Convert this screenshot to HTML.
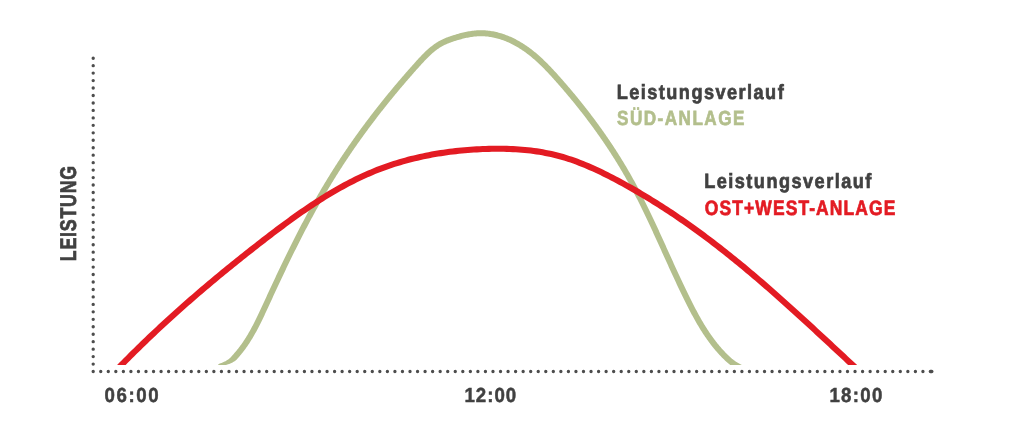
<!DOCTYPE html>
<html><head><meta charset="utf-8">
<style>
html,body{margin:0;padding:0;background:#fff;}
body{width:1024px;height:429px;overflow:hidden;position:relative;}
svg{position:absolute;left:0;top:0;will-change:transform;}
text{font-family:"Liberation Sans",sans-serif;font-weight:bold;text-rendering:geometricPrecision;}
</style></head><body>
<svg width="1024" height="429" viewBox="0 0 1024 429">
<defs><clipPath id="c"><rect x="0" y="0" width="1024" height="365"/></clipPath></defs>
<line x1="93.2" y1="58.2" x2="93.2" y2="371.5" stroke="#4d4d4d" stroke-width="3.35" stroke-linecap="round" stroke-dasharray="0 7.46"/>
<line x1="93.2" y1="371.5" x2="930.47" y2="371.5" stroke="#4d4d4d" stroke-width="3.35" stroke-linecap="round" stroke-dasharray="0 7.543"/>
<line x1="930.4" y1="371.5" x2="931.8" y2="371.5" stroke="#4d4d4d" stroke-width="3.35" stroke-linecap="round"/>
<g clip-path="url(#c)" fill="none">
<path d="M218.15,364.65 L219.41,364.99 L220.67,365.14 L221.92,365.19 L223.16,365.16 L224.39,365.06 L225.62,364.90 L226.83,364.66 L228.02,364.37 L229.20,364.00 L230.35,363.56 L231.48,363.05 L232.59,362.47 L233.65,361.82 L234.66,361.13 L235.63,360.40 L236.55,359.63 L237.36,358.78 L238.14,357.92 L238.90,357.07 L239.64,356.22 L240.37,355.36 L241.09,354.49 L241.80,353.62 L242.51,352.74 L243.20,351.86 L243.88,350.96 L244.56,350.07 L245.23,349.17 L245.88,348.26 L246.53,347.35 L247.18,346.43 L247.81,345.50 L248.44,344.58 L249.05,343.64 L249.67,342.71 L250.27,341.77 L250.87,340.82 L251.46,339.87 L252.04,338.92 L252.62,337.96 L253.19,337.00 L253.75,336.03 L254.31,335.06 L254.86,334.09 L255.41,333.11 L255.95,332.13 L256.49,331.15 L257.02,330.17 L257.55,329.18 L258.07,328.19 L258.59,327.20 L259.10,326.20 L259.61,325.20 L260.12,324.21 L260.62,323.20 L261.12,322.20 L261.62,321.20 L262.11,320.19 L262.60,319.18 L263.08,318.17 L263.57,317.16 L264.05,316.15 L264.53,315.14 L265.00,314.12 L265.48,313.11 L265.95,312.09 L266.42,311.08 L266.89,310.06 L267.36,309.05 L267.83,308.03 L268.30,307.01 L268.76,306.00 L269.23,304.98 L269.70,303.97 L270.16,302.95 L270.63,301.94 L271.09,300.92 L271.56,299.91 L272.02,298.90 L272.49,297.88 L272.96,296.87 L273.43,295.86 L273.89,294.85 L274.36,293.83 L274.83,292.82 L275.30,291.81 L275.77,290.80 L276.24,289.79 L276.71,288.77 L277.18,287.76 L277.65,286.75 L278.12,285.74 L278.59,284.73 L279.06,283.72 L279.54,282.71 L280.01,281.71 L280.48,280.70 L280.96,279.69 L281.43,278.68 L281.91,277.67 L282.38,276.67 L282.86,275.66 L283.34,274.65 L283.81,273.65 L284.29,272.64 L284.77,271.63 L285.25,270.63 L285.73,269.63 L286.21,268.62 L286.69,267.62 L287.17,266.61 L287.65,265.61 L288.14,264.61 L288.62,263.61 L289.10,262.60 L289.59,261.60 L290.07,260.60 L290.56,259.60 L291.05,258.60 L291.54,257.60 L292.02,256.60 L292.51,255.61 L293.00,254.61 L293.49,253.61 L293.99,252.61 L294.48,251.62 L294.97,250.62 L295.46,249.63 L295.96,248.63 L296.45,247.64 L296.95,246.65 L297.45,245.65 L297.95,244.66 L298.45,243.67 L298.95,242.68 L299.45,241.69 L299.95,240.70 L300.45,239.71 L300.95,238.72 L301.46,237.73 L301.96,236.74 L302.47,235.75 L302.98,234.77 L303.49,233.78 L303.99,232.80 L304.50,231.81 L305.02,230.83 L305.53,229.84 L306.04,228.86 L306.56,227.88 L307.07,226.90 L307.59,225.92 L308.10,224.94 L308.62,223.96 L309.14,222.98 L309.66,222.00 L310.19,221.03 L310.71,220.05 L311.23,219.07 L311.76,218.10 L312.28,217.13 L312.81,216.15 L313.34,215.18 L313.87,214.21 L314.40,213.24 L314.93,212.27 L315.47,211.30 L316.00,210.33 L316.54,209.36 L317.07,208.39 L317.61,207.43 L318.15,206.46 L318.69,205.50 L319.23,204.53 L319.78,203.57 L320.32,202.61 L320.87,201.65 L321.41,200.69 L321.96,199.73 L322.51,198.77 L323.06,197.81 L323.62,196.85 L324.17,195.90 L324.73,194.94 L325.28,193.99 L325.84,193.04 L326.40,192.08 L326.96,191.13 L327.52,190.18 L328.09,189.23 L328.65,188.28 L329.22,187.33 L329.79,186.39 L330.36,185.44 L330.93,184.50 L331.50,183.55 L332.07,182.61 L332.65,181.67 L333.23,180.73 L333.81,179.79 L334.39,178.85 L334.97,177.91 L335.55,176.97 L336.14,176.04 L336.72,175.10 L337.31,174.17 L337.90,173.23 L338.49,172.30 L339.08,171.37 L339.68,170.44 L340.27,169.51 L340.87,168.58 L341.47,167.65 L342.07,166.72 L342.67,165.80 L343.27,164.87 L343.87,163.95 L344.48,163.02 L345.09,162.10 L345.70,161.18 L346.31,160.26 L346.92,159.34 L347.53,158.42 L348.14,157.50 L348.76,156.59 L349.38,155.67 L350.00,154.75 L350.62,153.84 L351.24,152.93 L351.86,152.01 L352.48,151.10 L353.11,150.19 L353.74,149.28 L354.37,148.37 L355.00,147.47 L355.63,146.56 L356.26,145.65 L356.89,144.75 L357.53,143.84 L358.17,142.94 L358.80,142.04 L359.44,141.14 L360.08,140.23 L360.73,139.33 L361.37,138.44 L362.02,137.54 L362.66,136.64 L363.31,135.74 L363.96,134.85 L364.61,133.95 L365.26,133.06 L365.91,132.17 L366.57,131.28 L367.23,130.38 L367.88,129.49 L368.54,128.61 L369.20,127.72 L369.86,126.83 L370.52,125.94 L371.19,125.06 L371.85,124.17 L372.52,123.29 L373.19,122.40 L373.86,121.52 L374.53,120.64 L375.20,119.76 L375.87,118.88 L376.54,118.00 L377.22,117.12 L377.90,116.25 L378.57,115.37 L379.25,114.49 L379.93,113.62 L380.61,112.75 L381.30,111.87 L381.98,111.00 L382.67,110.13 L383.35,109.26 L384.04,108.39 L384.73,107.52 L385.42,106.65 L386.11,105.79 L386.81,104.92 L387.50,104.06 L388.19,103.19 L388.89,102.33 L389.59,101.46 L390.29,100.60 L390.99,99.74 L391.69,98.88 L392.39,98.02 L393.09,97.16 L393.80,96.31 L394.51,95.45 L395.21,94.59 L395.92,93.74 L396.63,92.88 L397.34,92.03 L398.05,91.18 L398.77,90.32 L399.48,89.47 L400.20,88.62 L400.91,87.77 L401.63,86.93 L402.35,86.08 L403.07,85.23 L403.79,84.38 L404.51,83.54 L405.23,82.69 L405.96,81.85 L406.68,81.01 L407.41,80.17 L408.14,79.32 L408.87,78.48 L409.60,77.64 L410.33,76.80 L411.06,75.97 L411.79,75.13 L412.53,74.29 L413.26,73.46 L414.00,72.62 L414.74,71.79 L415.48,70.95 L416.21,70.12 L416.96,69.29 L417.70,68.46 L418.44,67.63 L419.18,66.80 L419.93,65.97 L420.67,65.15 L421.42,64.32 L422.16,63.51 L422.91,62.69 L423.66,61.88 L424.41,61.08 L425.16,60.29 L425.92,59.50 L426.68,58.72 L427.44,57.95 L428.20,57.19 L428.97,56.43 L429.75,55.69 L430.53,54.96 L431.31,54.25 L432.10,53.54 L432.90,52.85 L433.70,52.17 L434.51,51.51 L435.33,50.86 L436.16,50.23 L436.99,49.61 L437.83,49.01 L438.68,48.43 L439.54,47.86 L440.41,47.31 L441.28,46.79 L442.17,46.28 L443.07,45.79 L443.98,45.32 L444.91,44.87 L445.86,44.43 L446.82,44.00 L447.79,43.59 L448.77,43.20 L449.77,42.81 L450.78,42.44 L451.80,42.08 L452.83,41.72 L453.87,41.37 L454.91,41.03 L455.97,40.70 L457.03,40.37 L458.09,40.06 L459.15,39.75 L460.21,39.44 L461.27,39.15 L462.34,38.87 L463.41,38.60 L464.48,38.34 L465.55,38.09 L466.61,37.86 L467.68,37.64 L468.75,37.43 L469.82,37.24 L470.89,37.06 L471.96,36.90 L473.02,36.75 L474.09,36.62 L475.15,36.50 L476.22,36.41 L477.28,36.33 L478.33,36.27 L479.39,36.23 L480.44,36.21 L481.49,36.21 L482.55,36.23 L483.60,36.27 L484.65,36.33 L485.70,36.40 L486.75,36.50 L487.79,36.61 L488.84,36.75 L489.88,36.90 L490.93,37.07 L491.97,37.25 L493.01,37.45 L494.04,37.67 L495.08,37.91 L496.11,38.16 L497.14,38.43 L498.16,38.71 L499.18,39.01 L500.20,39.33 L501.21,39.66 L502.23,40.00 L503.23,40.36 L504.23,40.73 L505.23,41.12 L506.22,41.52 L507.21,41.94 L508.19,42.36 L509.17,42.80 L510.14,43.25 L511.11,43.72 L512.07,44.19 L513.02,44.68 L513.97,45.18 L514.91,45.69 L515.84,46.21 L516.77,46.74 L517.69,47.28 L518.60,47.84 L519.51,48.40 L520.41,48.97 L521.31,49.55 L522.20,50.14 L523.08,50.74 L523.96,51.35 L524.83,51.97 L525.70,52.60 L526.56,53.24 L527.42,53.88 L528.27,54.54 L529.12,55.20 L529.96,55.87 L530.80,56.55 L531.63,57.23 L532.46,57.93 L533.28,58.63 L534.10,59.33 L534.92,60.05 L535.73,60.77 L536.54,61.50 L537.34,62.23 L538.14,62.97 L538.93,63.72 L539.72,64.47 L540.51,65.23 L541.30,65.99 L542.08,66.76 L542.86,67.54 L543.63,68.31 L544.40,69.10 L545.17,69.89 L545.94,70.68 L546.70,71.48 L547.46,72.28 L548.22,73.08 L548.98,73.89 L549.73,74.70 L550.48,75.52 L551.23,76.34 L551.98,77.16 L552.73,77.98 L553.47,78.81 L554.21,79.64 L554.95,80.47 L555.69,81.30 L556.43,82.13 L557.17,82.97 L557.90,83.81 L558.64,84.64 L559.37,85.48 L560.10,86.32 L560.83,87.16 L561.56,88.01 L562.29,88.85 L563.01,89.69 L563.73,90.54 L564.46,91.38 L565.18,92.23 L565.90,93.08 L566.61,93.93 L567.33,94.78 L568.04,95.63 L568.75,96.48 L569.47,97.33 L570.17,98.19 L570.88,99.04 L571.59,99.90 L572.29,100.76 L572.99,101.61 L573.70,102.47 L574.40,103.33 L575.09,104.20 L575.79,105.06 L576.48,105.92 L577.18,106.79 L577.87,107.65 L578.56,108.52 L579.25,109.39 L579.93,110.26 L580.62,111.13 L581.30,112.00 L581.98,112.87 L582.66,113.74 L583.34,114.62 L584.01,115.49 L584.69,116.37 L585.36,117.25 L586.03,118.12 L586.70,119.00 L587.37,119.89 L588.03,120.77 L588.69,121.65 L589.36,122.53 L590.02,123.42 L590.67,124.31 L591.33,125.19 L591.99,126.08 L592.64,126.97 L593.29,127.86 L593.94,128.76 L594.59,129.65 L595.23,130.54 L595.88,131.44 L596.52,132.34 L597.16,133.23 L597.80,134.13 L598.43,135.03 L599.07,135.93 L599.70,136.84 L600.33,137.74 L600.96,138.65 L601.59,139.55 L602.21,140.46 L602.84,141.37 L603.46,142.28 L604.08,143.19 L604.69,144.10 L605.31,145.01 L605.92,145.93 L606.53,146.84 L607.14,147.76 L607.75,148.68 L608.36,149.60 L608.96,150.52 L609.56,151.44 L610.16,152.36 L610.76,153.29 L611.36,154.21 L611.95,155.14 L612.54,156.06 L613.13,156.99 L613.72,157.92 L614.31,158.86 L614.89,159.79 L615.47,160.72 L616.05,161.66 L616.63,162.59 L617.21,163.53 L617.78,164.47 L618.35,165.41 L618.92,166.35 L619.49,167.29 L620.05,168.24 L620.62,169.18 L621.18,170.13 L621.74,171.08 L622.30,172.03 L622.85,172.98 L623.40,173.93 L623.95,174.88 L624.50,175.83 L625.05,176.79 L625.59,177.75 L626.14,178.70 L626.68,179.66 L627.21,180.62 L627.75,181.59 L628.28,182.55 L628.81,183.51 L629.34,184.48 L629.87,185.45 L630.40,186.42 L630.92,187.39 L631.44,188.36 L631.96,189.33 L632.48,190.30 L632.99,191.28 L633.51,192.26 L634.02,193.23 L634.53,194.21 L635.04,195.19 L635.55,196.17 L636.05,197.16 L636.56,198.14 L637.06,199.12 L637.56,200.11 L638.06,201.10 L638.55,202.08 L639.05,203.07 L639.54,204.06 L640.04,205.05 L640.53,206.05 L641.02,207.04 L641.51,208.03 L641.99,209.03 L642.48,210.02 L642.97,211.02 L643.45,212.02 L643.93,213.01 L644.41,214.01 L644.89,215.01 L645.37,216.01 L645.85,217.02 L646.33,218.02 L646.80,219.02 L647.28,220.02 L647.75,221.03 L648.23,222.03 L648.70,223.04 L649.17,224.04 L649.64,225.05 L650.11,226.06 L650.58,227.07 L651.05,228.08 L651.51,229.08 L651.98,230.09 L652.45,231.10 L652.91,232.12 L653.38,233.13 L653.84,234.14 L654.31,235.15 L654.77,236.16 L655.23,237.18 L655.70,238.19 L656.16,239.20 L656.62,240.22 L657.08,241.23 L657.54,242.25 L658.00,243.26 L658.46,244.28 L658.92,245.29 L659.38,246.31 L659.84,247.32 L660.30,248.34 L660.76,249.36 L661.22,250.37 L661.68,251.39 L662.14,252.40 L662.60,253.42 L663.06,254.44 L663.52,255.46 L663.98,256.47 L664.44,257.49 L664.90,258.51 L665.36,259.52 L665.82,260.54 L666.29,261.56 L666.75,262.57 L667.21,263.59 L667.67,264.61 L668.13,265.62 L668.60,266.64 L669.06,267.66 L669.52,268.67 L669.99,269.69 L670.45,270.70 L670.92,271.72 L671.38,272.73 L671.85,273.75 L672.32,274.76 L672.79,275.78 L673.26,276.79 L673.73,277.80 L674.20,278.82 L674.67,279.83 L675.14,280.84 L675.61,281.85 L676.09,282.87 L676.56,283.88 L677.04,284.89 L677.51,285.90 L677.99,286.91 L678.47,287.92 L678.95,288.92 L679.43,289.93 L679.91,290.94 L680.40,291.95 L680.88,292.95 L681.37,293.96 L681.86,294.96 L682.34,295.97 L682.83,296.97 L683.33,297.97 L683.82,298.97 L684.31,299.97 L684.81,300.97 L685.31,301.97 L685.81,302.97 L686.31,303.97 L686.81,304.97 L687.31,305.96 L687.82,306.96 L688.33,307.95 L688.84,308.95 L689.35,309.94 L689.87,310.93 L690.39,311.92 L690.91,312.91 L691.43,313.90 L691.96,314.88 L692.49,315.87 L693.03,316.85 L693.56,317.83 L694.11,318.81 L694.65,319.79 L695.20,320.76 L695.75,321.73 L696.31,322.70 L696.87,323.67 L697.43,324.64 L698.00,325.60 L698.58,326.56 L699.15,327.52 L699.74,328.48 L700.33,329.43 L700.92,330.38 L701.52,331.33 L702.12,332.27 L702.73,333.21 L703.34,334.15 L703.96,335.09 L704.59,336.02 L705.22,336.95 L705.86,337.87 L706.50,338.79 L707.15,339.71 L707.80,340.62 L708.47,341.53 L709.14,342.44 L709.81,343.34 L710.49,344.24 L711.18,345.13 L711.88,346.02 L712.58,346.90 L713.29,347.78 L714.01,348.66 L714.74,349.53 L715.47,350.40 L716.21,351.26 L716.96,352.11 L717.72,352.97 L718.48,353.81 L719.26,354.65 L720.04,355.49 L720.83,356.32 L721.63,357.14 L722.43,357.96 L723.25,358.78 L724.08,359.59 L724.92,360.39 L725.78,361.19 L726.65,361.97 L727.53,362.74 L728.43,363.50 L729.34,364.25 L730.27,364.98 L731.22,365.69 L732.18,366.38 L733.17,367.04 L734.17,367.69 L735.19,368.30 L736.23,368.89 L737.30,369.45 L738.38,369.98 L739.48,370.47 L740.61,370.92 L741.76,371.34 L742.94,371.71 L744.13,372.04 L745.35,372.33 L746.59,372.57 L747.85,372.76 L749.14,372.90 L750.44,372.99 L751.77,373.02 L753.12,372.99 L752.88,367.00 L751.79,367.02 L750.71,366.99 L749.66,366.92 L748.62,366.81 L747.61,366.66 L746.61,366.47 L745.62,366.23 L744.65,365.96 L743.70,365.66 L742.76,365.32 L741.83,364.94 L740.91,364.53 L740.00,364.09 L739.10,363.62 L738.22,363.12 L737.34,362.59 L736.47,362.04 L735.61,361.45 L734.76,360.85 L733.92,360.22 L733.09,359.56 L732.26,358.89 L731.45,358.20 L730.64,357.49 L729.83,356.76 L729.04,356.02 L728.25,355.27 L727.47,354.51 L726.69,353.73 L725.92,352.95 L725.16,352.16 L724.40,351.37 L723.66,350.57 L722.92,349.77 L722.18,348.96 L721.46,348.15 L720.74,347.33 L720.03,346.50 L719.33,345.67 L718.64,344.84 L717.95,344.00 L717.26,343.15 L716.59,342.30 L715.92,341.45 L715.26,340.59 L714.60,339.73 L713.95,338.86 L713.31,337.98 L712.67,337.11 L712.03,336.23 L711.41,335.34 L710.79,334.45 L710.17,333.56 L709.56,332.66 L708.95,331.76 L708.35,330.85 L707.76,329.94 L707.17,329.03 L706.58,328.11 L706.00,327.19 L705.42,326.27 L704.85,325.34 L704.28,324.41 L703.72,323.48 L703.16,322.54 L702.61,321.60 L702.05,320.66 L701.51,319.71 L700.96,318.76 L700.42,317.81 L699.88,316.85 L699.35,315.90 L698.82,314.94 L698.29,313.97 L697.77,313.01 L697.25,312.04 L696.73,311.07 L696.21,310.10 L695.70,309.13 L695.19,308.15 L694.68,307.18 L694.17,306.20 L693.67,305.22 L693.16,304.23 L692.66,303.25 L692.16,302.26 L691.67,301.28 L691.17,300.29 L690.68,299.30 L690.18,298.31 L689.69,297.31 L689.20,296.32 L688.71,295.33 L688.22,294.33 L687.74,293.34 L687.25,292.34 L686.77,291.34 L686.29,290.34 L685.80,289.34 L685.32,288.34 L684.84,287.34 L684.37,286.34 L683.89,285.34 L683.41,284.34 L682.94,283.33 L682.46,282.33 L681.99,281.32 L681.52,280.32 L681.05,279.31 L680.58,278.30 L680.11,277.30 L679.64,276.29 L679.17,275.28 L678.70,274.27 L678.23,273.26 L677.77,272.25 L677.30,271.24 L676.84,270.23 L676.37,269.22 L675.91,268.20 L675.44,267.19 L674.98,266.18 L674.52,265.17 L674.06,264.15 L673.59,263.14 L673.13,262.12 L672.67,261.11 L672.21,260.09 L671.75,259.08 L671.29,258.06 L670.83,257.05 L670.37,256.03 L669.91,255.02 L669.45,254.00 L668.99,252.98 L668.53,251.97 L668.07,250.95 L667.61,249.93 L667.15,248.92 L666.69,247.90 L666.23,246.88 L665.77,245.87 L665.31,244.85 L664.85,243.83 L664.39,242.81 L663.93,241.80 L663.47,240.78 L663.01,239.76 L662.54,238.75 L662.08,237.73 L661.62,236.72 L661.15,235.70 L660.69,234.68 L660.23,233.67 L659.76,232.65 L659.30,231.64 L658.83,230.62 L658.36,229.61 L657.90,228.59 L657.43,227.58 L656.96,226.56 L656.49,225.55 L656.02,224.54 L655.55,223.53 L655.08,222.51 L654.60,221.50 L654.13,220.49 L653.66,219.48 L653.18,218.47 L652.70,217.46 L652.23,216.45 L651.75,215.44 L651.27,214.43 L650.79,213.43 L650.30,212.42 L649.82,211.41 L649.34,210.41 L648.85,209.40 L648.36,208.40 L647.87,207.39 L647.38,206.39 L646.89,205.39 L646.40,204.39 L645.91,203.39 L645.41,202.39 L644.91,201.39 L644.42,200.39 L643.91,199.39 L643.41,198.39 L642.91,197.40 L642.40,196.40 L641.90,195.41 L641.39,194.42 L640.88,193.42 L640.37,192.43 L639.85,191.44 L639.34,190.45 L638.82,189.47 L638.30,188.48 L637.78,187.49 L637.26,186.51 L636.73,185.53 L636.20,184.54 L635.67,183.56 L635.14,182.58 L634.61,181.60 L634.07,180.62 L633.53,179.65 L632.99,178.67 L632.45,177.70 L631.91,176.73 L631.36,175.75 L630.81,174.79 L630.26,173.82 L629.71,172.85 L629.15,171.88 L628.59,170.92 L628.03,169.96 L627.47,168.99 L626.91,168.03 L626.34,167.07 L625.78,166.12 L625.21,165.16 L624.63,164.20 L624.06,163.25 L623.48,162.30 L622.90,161.35 L622.32,160.40 L621.74,159.45 L621.16,158.50 L620.57,157.55 L619.98,156.61 L619.39,155.67 L618.80,154.72 L618.20,153.78 L617.60,152.84 L617.01,151.90 L616.40,150.97 L615.80,150.03 L615.20,149.10 L614.59,148.16 L613.98,147.23 L613.37,146.30 L612.76,145.37 L612.14,144.44 L611.53,143.51 L610.91,142.59 L610.29,141.66 L609.67,140.74 L609.04,139.82 L608.41,138.90 L607.79,137.98 L607.16,137.06 L606.52,136.14 L605.89,135.23 L605.25,134.31 L604.62,133.40 L603.98,132.49 L603.34,131.57 L602.69,130.66 L602.05,129.76 L601.40,128.85 L600.75,127.94 L600.10,127.04 L599.45,126.13 L598.79,125.23 L598.14,124.33 L597.48,123.43 L596.82,122.53 L596.16,121.63 L595.50,120.73 L594.83,119.84 L594.16,118.94 L593.49,118.05 L592.82,117.16 L592.15,116.27 L591.48,115.38 L590.80,114.49 L590.13,113.60 L589.45,112.71 L588.76,111.83 L588.08,110.95 L587.40,110.06 L586.71,109.18 L586.02,108.30 L585.33,107.42 L584.64,106.54 L583.95,105.66 L583.26,104.79 L582.56,103.91 L581.86,103.04 L581.16,102.17 L580.46,101.29 L579.76,100.42 L579.05,99.55 L578.35,98.68 L577.64,97.82 L576.93,96.95 L576.22,96.09 L575.51,95.22 L574.79,94.36 L574.08,93.50 L573.36,92.64 L572.64,91.78 L571.92,90.92 L571.20,90.06 L570.48,89.20 L569.75,88.35 L569.02,87.49 L568.30,86.64 L567.57,85.79 L566.83,84.94 L566.10,84.08 L565.37,83.24 L564.63,82.39 L563.89,81.54 L563.15,80.69 L562.41,79.85 L561.67,79.00 L560.93,78.16 L560.18,77.32 L559.44,76.48 L558.69,75.64 L557.93,74.80 L557.18,73.96 L556.42,73.12 L555.66,72.29 L554.90,71.46 L554.14,70.63 L553.37,69.80 L552.60,68.98 L551.82,68.15 L551.04,67.33 L550.26,66.52 L549.48,65.71 L548.69,64.90 L547.90,64.09 L547.10,63.29 L546.30,62.50 L545.49,61.70 L544.69,60.92 L543.87,60.13 L543.05,59.36 L542.23,58.58 L541.40,57.82 L540.57,57.06 L539.73,56.30 L538.89,55.55 L538.04,54.81 L537.19,54.07 L536.33,53.34 L535.47,52.62 L534.59,51.90 L533.72,51.19 L532.84,50.49 L531.95,49.79 L531.05,49.11 L530.15,48.43 L529.24,47.76 L528.33,47.10 L527.41,46.44 L526.48,45.80 L525.54,45.16 L524.60,44.54 L523.65,43.92 L522.70,43.31 L521.73,42.72 L520.76,42.13 L519.78,41.55 L518.79,40.99 L517.80,40.43 L516.80,39.89 L515.78,39.36 L514.77,38.84 L513.74,38.33 L512.71,37.83 L511.67,37.35 L510.62,36.87 L509.57,36.42 L508.51,35.97 L507.44,35.54 L506.37,35.13 L505.29,34.72 L504.20,34.34 L503.11,33.96 L502.01,33.61 L500.91,33.27 L499.81,32.94 L498.69,32.63 L497.58,32.34 L496.46,32.07 L495.33,31.81 L494.20,31.57 L493.07,31.35 L491.93,31.15 L490.79,30.97 L489.64,30.80 L488.50,30.66 L487.34,30.53 L486.19,30.42 L485.03,30.34 L483.87,30.28 L482.71,30.23 L481.55,30.21 L480.38,30.21 L479.22,30.23 L478.05,30.28 L476.89,30.34 L475.72,30.43 L474.56,30.53 L473.41,30.66 L472.25,30.80 L471.09,30.96 L469.94,31.13 L468.79,31.33 L467.65,31.53 L466.50,31.76 L465.36,31.99 L464.23,32.24 L463.09,32.50 L461.96,32.78 L460.84,33.06 L459.72,33.36 L458.60,33.66 L457.49,33.98 L456.38,34.30 L455.28,34.63 L454.18,34.97 L453.08,35.32 L451.99,35.67 L450.90,36.04 L449.81,36.41 L448.73,36.80 L447.65,37.20 L446.57,37.62 L445.50,38.05 L444.44,38.49 L443.38,38.96 L442.34,39.45 L441.30,39.96 L440.27,40.49 L439.25,41.04 L438.25,41.61 L437.26,42.21 L436.29,42.82 L435.33,43.45 L434.39,44.09 L433.46,44.76 L432.54,45.44 L431.64,46.13 L430.75,46.84 L429.87,47.56 L429.00,48.29 L428.14,49.04 L427.29,49.79 L426.45,50.56 L425.63,51.34 L424.81,52.12 L423.99,52.91 L423.19,53.71 L422.39,54.52 L421.60,55.33 L420.82,56.15 L420.04,56.97 L419.27,57.80 L418.50,58.62 L417.74,59.46 L416.98,60.29 L416.22,61.12 L415.47,61.96 L414.72,62.79 L413.97,63.63 L413.22,64.46 L412.48,65.30 L411.73,66.13 L410.99,66.97 L410.24,67.81 L409.50,68.65 L408.76,69.49 L408.02,70.33 L407.28,71.17 L406.54,72.02 L405.81,72.86 L405.07,73.70 L404.34,74.55 L403.60,75.40 L402.87,76.24 L402.14,77.09 L401.41,77.94 L400.68,78.79 L399.95,79.64 L399.22,80.49 L398.50,81.34 L397.77,82.19 L397.05,83.05 L396.33,83.90 L395.61,84.76 L394.89,85.61 L394.17,86.47 L393.45,87.33 L392.73,88.19 L392.02,89.05 L391.30,89.91 L390.59,90.77 L389.88,91.63 L389.17,92.49 L388.46,93.36 L387.75,94.22 L387.04,95.09 L386.33,95.95 L385.63,96.82 L384.93,97.69 L384.22,98.56 L383.52,99.43 L382.82,100.30 L382.12,101.17 L381.42,102.04 L380.73,102.92 L380.03,103.79 L379.34,104.66 L378.65,105.54 L377.95,106.42 L377.26,107.29 L376.57,108.17 L375.89,109.05 L375.20,109.93 L374.51,110.81 L373.83,111.70 L373.15,112.58 L372.47,113.46 L371.79,114.35 L371.11,115.23 L370.43,116.12 L369.75,117.01 L369.08,117.89 L368.40,118.78 L367.73,119.67 L367.06,120.56 L366.39,121.46 L365.72,122.35 L365.05,123.24 L364.39,124.14 L363.72,125.03 L363.06,125.93 L362.40,126.82 L361.73,127.72 L361.07,128.62 L360.42,129.52 L359.76,130.42 L359.10,131.32 L358.45,132.23 L357.80,133.13 L357.15,134.03 L356.50,134.94 L355.85,135.85 L355.20,136.75 L354.55,137.66 L353.91,138.57 L353.26,139.48 L352.62,140.39 L351.98,141.30 L351.34,142.21 L350.70,143.13 L350.07,144.04 L349.43,144.96 L348.80,145.87 L348.17,146.79 L347.54,147.71 L346.91,148.63 L346.28,149.55 L345.65,150.47 L345.03,151.39 L344.40,152.31 L343.78,153.24 L343.16,154.16 L342.54,155.09 L341.92,156.01 L341.31,156.94 L340.69,157.87 L340.08,158.80 L339.47,159.73 L338.85,160.66 L338.25,161.59 L337.64,162.53 L337.03,163.46 L336.43,164.39 L335.82,165.33 L335.22,166.27 L334.62,167.21 L334.02,168.14 L333.42,169.08 L332.83,170.02 L332.23,170.97 L331.64,171.91 L331.05,172.85 L330.46,173.80 L329.87,174.74 L329.28,175.69 L328.70,176.64 L328.12,177.59 L327.53,178.53 L326.95,179.49 L326.37,180.44 L325.80,181.39 L325.22,182.34 L324.64,183.30 L324.07,184.25 L323.50,185.21 L322.93,186.16 L322.36,187.12 L321.79,188.08 L321.23,189.04 L320.66,190.00 L320.10,190.96 L319.54,191.92 L318.98,192.89 L318.42,193.85 L317.87,194.81 L317.31,195.78 L316.76,196.75 L316.20,197.71 L315.65,198.68 L315.10,199.65 L314.55,200.62 L314.01,201.59 L313.46,202.56 L312.91,203.53 L312.37,204.50 L311.83,205.48 L311.29,206.45 L310.75,207.43 L310.21,208.40 L309.67,209.38 L309.14,210.36 L308.60,211.33 L308.07,212.31 L307.54,213.29 L307.01,214.27 L306.48,215.25 L305.95,216.23 L305.42,217.21 L304.89,218.20 L304.37,219.18 L303.85,220.16 L303.32,221.15 L302.80,222.13 L302.28,223.12 L301.76,224.11 L301.24,225.09 L300.72,226.08 L300.21,227.07 L299.69,228.06 L299.18,229.05 L298.67,230.04 L298.15,231.03 L297.64,232.02 L297.13,233.01 L296.62,234.01 L296.12,235.00 L295.61,235.99 L295.10,236.99 L294.60,237.98 L294.09,238.98 L293.59,239.97 L293.09,240.97 L292.59,241.97 L292.08,242.96 L291.59,243.96 L291.09,244.96 L290.59,245.96 L290.09,246.96 L289.60,247.96 L289.10,248.96 L288.61,249.96 L288.11,250.96 L287.62,251.96 L287.13,252.96 L286.63,253.97 L286.14,254.97 L285.65,255.97 L285.17,256.98 L284.68,257.98 L284.19,258.99 L283.70,259.99 L283.22,261.00 L282.73,262.00 L282.25,263.01 L281.76,264.02 L281.28,265.02 L280.80,266.03 L280.31,267.04 L279.83,268.05 L279.35,269.05 L278.87,270.06 L278.39,271.07 L277.91,272.08 L277.44,273.09 L276.96,274.10 L276.48,275.11 L276.00,276.12 L275.53,277.13 L275.05,278.15 L274.58,279.16 L274.10,280.17 L273.63,281.18 L273.16,282.19 L272.68,283.21 L272.21,284.22 L271.74,285.23 L271.27,286.24 L270.80,287.26 L270.32,288.27 L269.85,289.29 L269.38,290.30 L268.92,291.31 L268.45,292.33 L267.98,293.34 L267.51,294.36 L267.04,295.37 L266.57,296.39 L266.11,297.40 L265.64,298.42 L265.17,299.44 L264.71,300.45 L264.24,301.47 L263.78,302.48 L263.31,303.50 L262.85,304.51 L262.38,305.52 L261.91,306.53 L261.45,307.55 L260.98,308.55 L260.51,309.56 L260.04,310.57 L259.57,311.57 L259.10,312.58 L258.63,313.58 L258.15,314.58 L257.67,315.58 L257.20,316.57 L256.71,317.56 L256.23,318.55 L255.74,319.54 L255.25,320.52 L254.76,321.51 L254.27,322.48 L253.77,323.46 L253.27,324.43 L252.76,325.40 L252.25,326.37 L251.74,327.33 L251.22,328.29 L250.70,329.24 L250.17,330.19 L249.64,331.14 L249.10,332.08 L248.56,333.02 L248.02,333.95 L247.47,334.88 L246.91,335.80 L246.35,336.72 L245.78,337.64 L245.21,338.55 L244.63,339.45 L244.04,340.35 L243.45,341.24 L242.85,342.13 L242.24,343.01 L241.63,343.89 L241.01,344.76 L240.39,345.62 L239.75,346.48 L239.11,347.33 L238.46,348.18 L237.80,349.02 L237.14,349.85 L236.46,350.68 L235.78,351.50 L235.09,352.31 L234.39,353.12 L233.68,353.91 L232.98,354.68 L232.27,355.42 L231.63,356.19 L230.98,356.93 L230.32,357.63 L229.64,358.30 L228.92,358.92 L228.15,359.52 L227.34,360.08 L226.47,360.62 L225.56,361.13 L224.61,361.61 L223.62,362.08 L222.59,362.51 L221.52,362.94 L220.42,363.36 L219.29,363.80 L218.13,364.35 Z" fill="#b3bf8c" stroke="none"/>
<path d="M113.22,373.38 L115.32,371.20 L117.42,369.03 L119.52,366.86 L121.63,364.71 L123.75,362.56 L125.86,360.42 L127.99,358.28 L130.11,356.15 L132.24,354.03 L134.38,351.92 L136.52,349.81 L138.66,347.71 L140.81,345.62 L142.96,343.53 L145.12,341.45 L147.28,339.38 L149.44,337.31 L151.61,335.25 L153.79,333.20 L155.97,331.15 L158.15,329.11 L160.33,327.07 L162.53,325.04 L164.72,323.01 L166.92,321.00 L169.12,318.98 L171.33,316.98 L173.55,314.98 L175.76,312.98 L177.98,310.99 L180.21,309.00 L182.44,307.03 L184.67,305.05 L186.91,303.08 L189.15,301.12 L191.40,299.16 L193.65,297.20 L195.91,295.26 L198.17,293.31 L200.43,291.37 L202.70,289.44 L204.97,287.51 L207.25,285.58 L209.53,283.66 L211.81,281.74 L214.10,279.83 L216.40,277.92 L218.69,276.02 L221.00,274.12 L223.30,272.22 L225.61,270.33 L227.93,268.44 L230.25,266.55 L232.57,264.67 L234.90,262.79 L237.23,260.92 L239.56,259.05 L241.90,257.18 L244.25,255.32 L246.60,253.46 L248.95,251.60 L251.30,249.74 L253.67,247.89 L256.03,246.04 L258.40,244.20 L260.77,242.36 L263.15,240.52 L265.53,238.68 L267.92,236.85 L270.31,235.02 L272.70,233.19 L275.10,231.37 L277.51,229.56 L279.92,227.75 L282.34,225.95 L284.76,224.15 L287.19,222.37 L289.62,220.59 L292.06,218.83 L294.51,217.07 L296.96,215.33 L299.42,213.59 L301.89,211.87 L304.36,210.16 L306.85,208.47 L309.34,206.78 L311.83,205.12 L314.34,203.46 L316.85,201.83 L319.38,200.21 L321.91,198.60 L324.45,197.02 L327.00,195.45 L329.56,193.90 L332.12,192.37 L334.70,190.86 L337.29,189.37 L339.88,187.91 L342.49,186.46 L345.11,185.04 L347.74,183.64 L350.37,182.26 L353.02,180.91 L355.68,179.59 L358.36,178.29 L361.04,177.01 L363.74,175.76 L366.44,174.54 L369.16,173.35 L371.89,172.19 L374.64,171.05 L377.39,169.95 L380.16,168.88 L382.95,167.84 L385.74,166.82 L388.55,165.84 L391.37,164.89 L394.20,163.97 L397.04,163.08 L399.89,162.22 L402.76,161.39 L405.63,160.59 L408.51,159.81 L411.41,159.07 L414.31,158.35 L417.22,157.66 L420.14,157.00 L423.07,156.36 L426.00,155.76 L428.95,155.18 L431.90,154.62 L434.85,154.10 L437.82,153.60 L440.78,153.12 L443.76,152.67 L446.74,152.25 L449.72,151.85 L452.71,151.48 L455.71,151.13 L458.70,150.80 L461.70,150.50 L464.71,150.23 L467.72,149.97 L470.73,149.74 L473.74,149.54 L476.75,149.35 L479.77,149.19 L482.78,149.05 L485.80,148.93 L488.82,148.84 L491.83,148.77 L494.85,148.73 L497.86,148.72 L500.88,148.73 L503.89,148.77 L506.89,148.84 L509.90,148.95 L512.89,149.08 L515.89,149.25 L518.88,149.44 L521.86,149.68 L524.84,149.94 L527.81,150.25 L530.78,150.59 L533.74,150.97 L536.69,151.38 L539.63,151.84 L542.56,152.34 L545.48,152.88 L548.39,153.46 L551.29,154.08 L554.18,154.75 L557.06,155.47 L559.93,156.23 L562.78,157.04 L565.62,157.89 L568.45,158.79 L571.27,159.72 L574.07,160.70 L576.86,161.72 L579.65,162.78 L582.42,163.87 L585.18,164.99 L587.93,166.15 L590.67,167.34 L593.40,168.56 L596.12,169.80 L598.83,171.07 L601.53,172.37 L604.23,173.68 L606.91,175.02 L609.59,176.38 L612.25,177.76 L614.91,179.15 L617.56,180.55 L620.21,181.97 L622.84,183.40 L625.47,184.85 L628.10,186.31 L630.71,187.78 L633.32,189.26 L635.91,190.76 L638.51,192.26 L641.09,193.78 L643.67,195.31 L646.24,196.86 L648.80,198.41 L651.36,199.98 L653.90,201.56 L656.44,203.14 L658.98,204.74 L661.50,206.35 L664.02,207.98 L666.54,209.61 L669.04,211.25 L671.54,212.91 L674.03,214.57 L676.51,216.24 L678.99,217.93 L681.46,219.62 L683.92,221.33 L686.38,223.04 L688.83,224.76 L691.27,226.49 L693.71,228.24 L696.13,229.99 L698.56,231.75 L700.97,233.52 L703.38,235.29 L705.78,237.08 L708.17,238.87 L710.56,240.68 L712.94,242.49 L715.32,244.31 L717.69,246.13 L720.05,247.97 L722.40,249.81 L724.75,251.66 L727.10,253.52 L729.43,255.39 L731.76,257.26 L734.09,259.14 L736.41,261.02 L738.73,262.91 L741.04,264.81 L743.34,266.72 L745.64,268.63 L747.93,270.55 L750.22,272.47 L752.51,274.40 L754.79,276.33 L757.07,278.27 L759.34,280.22 L761.60,282.17 L763.87,284.12 L766.13,286.08 L768.38,288.05 L770.63,290.02 L772.88,291.99 L775.13,293.97 L777.37,295.95 L779.60,297.93 L781.84,299.92 L784.07,301.92 L786.30,303.91 L788.52,305.91 L790.75,307.92 L792.97,309.93 L795.18,311.93 L797.40,313.95 L799.61,315.96 L801.82,317.98 L804.03,320.00 L806.24,322.02 L808.45,324.04 L810.65,326.07 L812.85,328.10 L815.05,330.13 L817.25,332.16 L819.45,334.19 L821.65,336.22 L823.84,338.26 L826.04,340.29 L828.23,342.33 L830.43,344.36 L832.62,346.40 L834.82,348.44 L837.01,350.48 L839.20,352.51 L841.39,354.55 L843.59,356.59 L845.78,358.62 L847.97,360.66 L850.17,362.69 L852.36,364.73 L854.56,366.76 L856.75,368.79 L858.95,370.82 L861.15,372.85" stroke="#e31b23" stroke-width="6.1"/>
</g>
<text transform="translate(616.7,98.6) scale(0.88,1)" font-size="20.6" fill="#414141" textLength="189.74" lengthAdjust="spacing" stroke="#414141" stroke-width="0.7">Leistungsverlauf</text>
<text transform="translate(617.1,124.85) scale(0.84,1)" font-size="20.4" fill="#b3bf8c" textLength="151.52" lengthAdjust="spacing" stroke="#b3bf8c" stroke-width="0.7">SÜD-ANLAGE</text>
<text transform="translate(704.17,187.95) scale(0.88,1)" font-size="20.6" fill="#414141" textLength="189.97" lengthAdjust="spacing" stroke="#414141" stroke-width="0.7">Leistungsverlauf</text>
<text transform="translate(704.86,214.85) scale(0.84,1)" font-size="20.8" fill="#e31b23" textLength="226.79" lengthAdjust="spacing" stroke="#e31b23" stroke-width="0.7">OST+WEST-ANLAGE</text>
<text transform="translate(104.59,401.95) scale(0.92,1)" font-size="20.3" fill="#414141" textLength="58.74" lengthAdjust="spacing" stroke="#414141" stroke-width="0.5">06:00</text>
<text transform="translate(464.44,401.95) scale(0.92,1)" font-size="20.3" fill="#414141" textLength="56.28" lengthAdjust="spacing" stroke="#414141" stroke-width="0.5">12:00</text>
<text transform="translate(829.44,401.95) scale(0.92,1)" font-size="20.3" fill="#414141" textLength="57.49" lengthAdjust="spacing" stroke="#414141" stroke-width="0.5">18:00</text>
<text transform="translate(75.5,261.22) rotate(-90) scale(0.78,1)" font-size="22.7" fill="#414141" textLength="122.24" lengthAdjust="spacing" stroke="#414141" stroke-width="0.7">LEISTUNG</text>
</svg>
</body></html>
